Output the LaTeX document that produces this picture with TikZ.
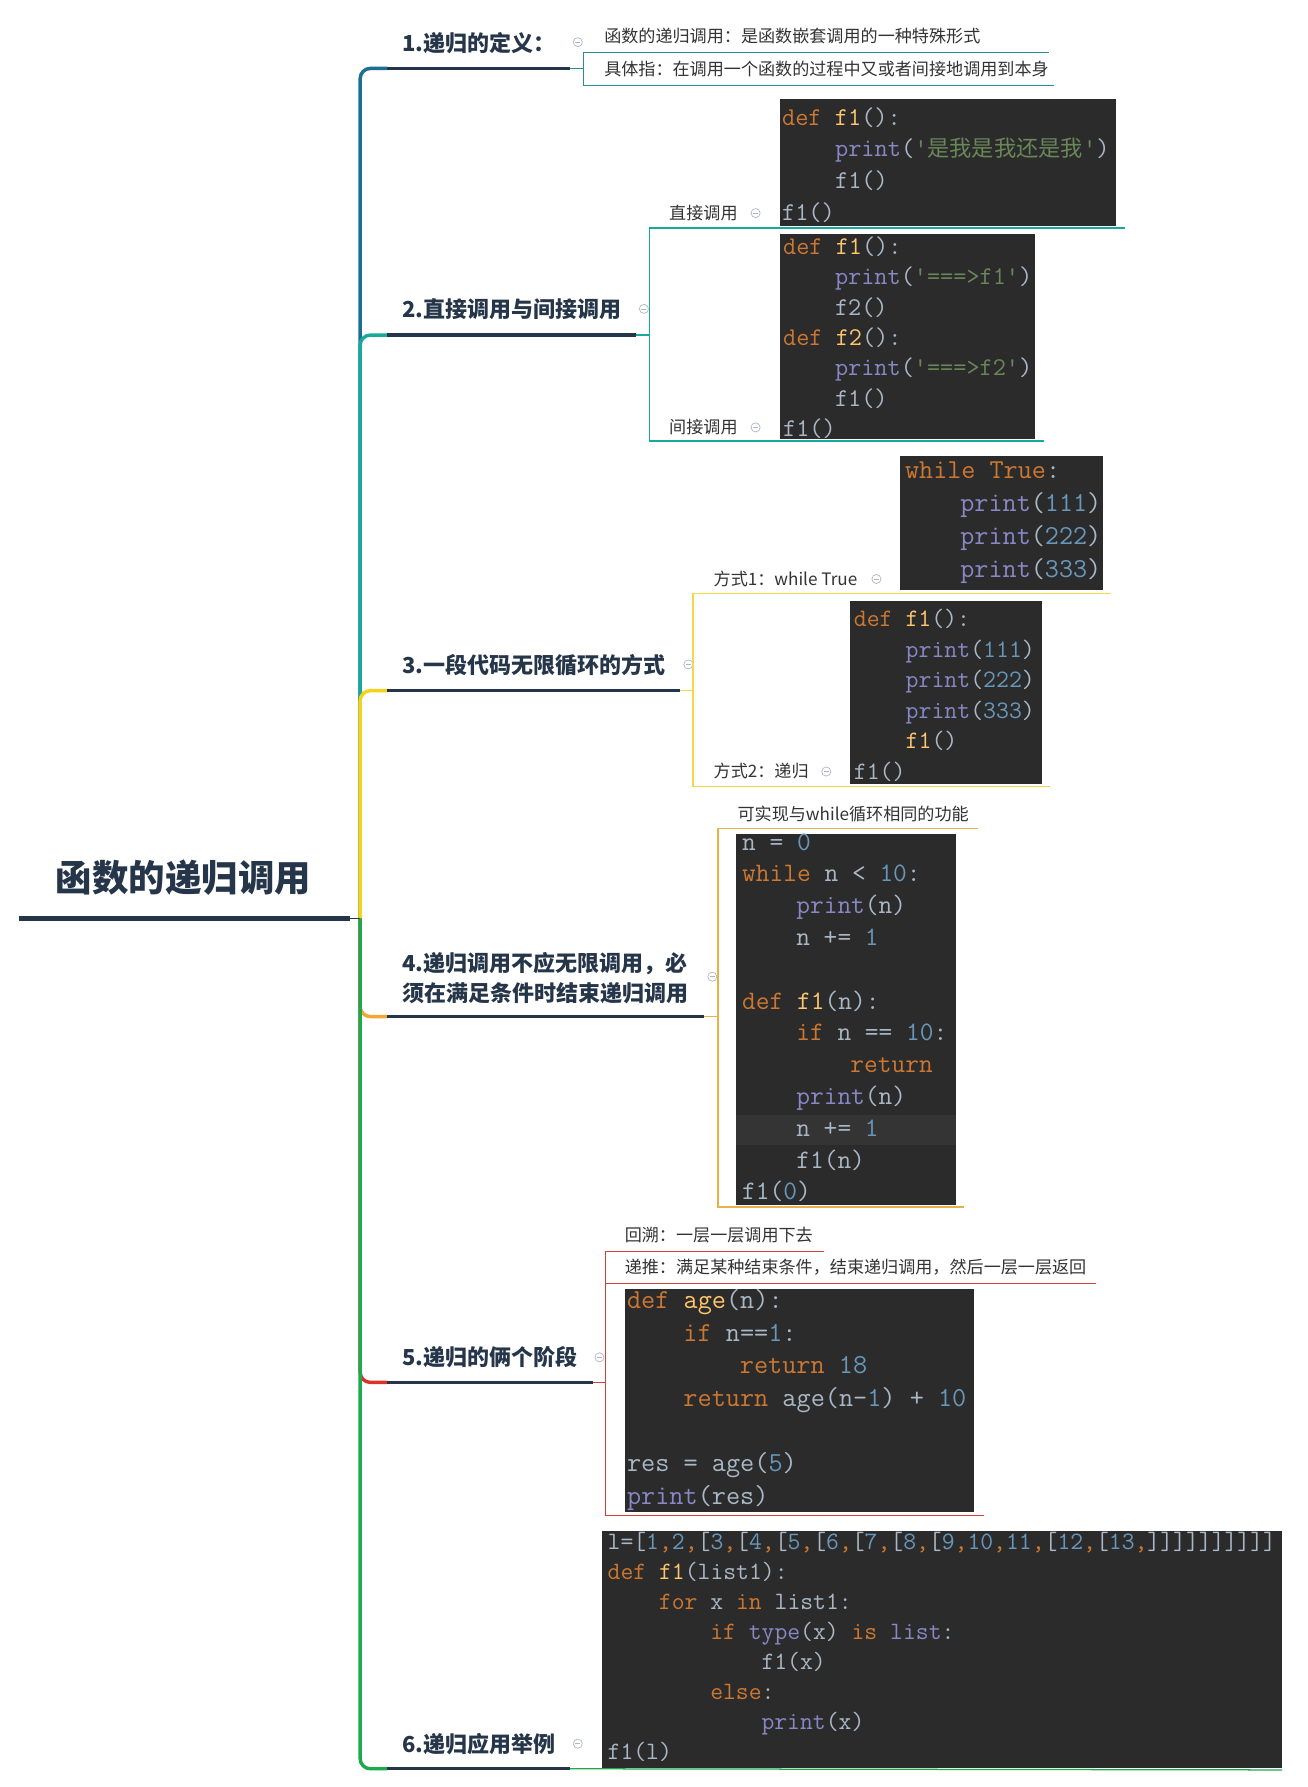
\documentclass[tikz,border=0pt]{standalone}
\usepackage{fontspec}
\newfontfamily\cjk{Noto Sans CJK SC}
\definecolor{navy}{HTML}{26364A}
\definecolor{cA}{HTML}{1B6F8F}
\definecolor{cAsub}{HTML}{2A8C96}
\definecolor{cB}{HTML}{17A99A}
\definecolor{cC}{HTML}{F5D31A}
\definecolor{cCsub}{HTML}{F0D84A}
\definecolor{cD}{HTML}{F0A830}
\definecolor{cDsub}{HTML}{E9B04A}
\definecolor{cE}{HTML}{D9342B}
\definecolor{cEsub}{HTML}{D0403A}
\definecolor{cF}{HTML}{1DAA4B}
\definecolor{foldc}{HTML}{AEB6C4}
\definecolor{leafc}{HTML}{333333}
\definecolor{codebg}{HTML}{2B2B2B}
\definecolor{codehl}{HTML}{343434}
\definecolor{codetxt}{HTML}{A9B7C6}
\definecolor{kwc}{HTML}{CC7832}
\definecolor{fnc}{HTML}{FFC66D}
\definecolor{bic}{HTML}{8888C6}
\definecolor{numc}{HTML}{6897BB}
\definecolor{strc}{HTML}{6A8759}
\newcommand\pyKw[1]{\textcolor{kwc}{#1}}
\newcommand\pyFn[1]{\textcolor{fnc}{#1}}
\newcommand\pyBi[1]{\textcolor{bic}{#1}}
\newcommand\pyNum[1]{\textcolor{numc}{#1}}
\newcommand\pyStr[1]{\textcolor{strc}{#1}}
\newcommand\pyC{\textcolor{kwc}{,}}
\newcommand\codefont[1]{\ttfamily\fontsize{#1}{#1}\selectfont}

\begin{document}
\begin{tikzpicture}[x=1pt,y=-1pt,
  trunk/.style={line width=3pt, rounded corners=9pt},
  topicline/.style={line width=3pt, draw=navy},
  sub/.style={line width=1.1pt},
  topic/.style={anchor=base west, inner sep=0pt, text=navy, font=\cjk\bfseries\fontsize{19.3}{24}\selectfont},
  leaf/.style={anchor=base west, inner sep=0pt, text=leafc, font=\cjk\fontsize{15}{18}\selectfont},
  codebox/.style={fill=codebg},
  code/.style={anchor=base west, inner sep=0pt, text=codetxt},
  fold/.style={circle, draw=foldc, line width=0.6pt, minimum size=8pt, inner sep=0pt,
    path picture={\draw[foldc, line width=0.6pt] ([xshift=-2.2pt]path picture bounding box.center) -- ([xshift=2.2pt]path picture bounding box.center);}},
]
\fill[white] (0,0) rectangle (1147,1568);
\useasboundingbox (0,0) rectangle (1147,1568);

% root
\node[anchor=base, inner sep=0pt, text=navy, font=\cjk\bfseries\fontsize{32}{36}\selectfont] (root) at (161,782) {函数的递归调用};
\coordinate (r0) at (17,806);
\coordinate (r1) at (307,806);
\coordinate (hub) at (316,806);

% topic anchors
\coordinate (t1s) at (340,60);   \coordinate (t1e) at (500,60);
\coordinate (t2s) at (340,294);  \coordinate (t2e) at (558,294);
\coordinate (t3s) at (340,606);  \coordinate (t3e) at (597,606);
\coordinate (t4s) at (340,892);  \coordinate (t4e) at (618,892);
\coordinate (t5s) at (340,1213); \coordinate (t5e) at (520,1213);
\coordinate (t6s) at (340,1552); \coordinate (t6e) at (500,1552);

% trunk
\draw[trunk, cA] (hub) |- (t1s);
\draw[trunk, cB] (hub) |- (t2s);
\draw[trunk, cC] (hub) |- (t3s);
\draw[trunk, cD] (hub) |- (t4s);
\draw[trunk, cE] (hub) |- (t5s);
\draw[trunk, cF] (hub) |- (t6s);
\draw[line width=4pt, navy] (r0) -- (r1);
\draw[line width=1.2pt, navy] (r1) -- (hub);

% topics
\node[topic] (t1) at (353,45) {1.递归的定义：};
\node[topic] (t2) at (353,279) {2.直接调用与间接调用};
\node[topic] (t3) at (353,591) {3.一段代码无限循环的方式};
\node[topic] (t4a) at (353,852) {4.递归调用不应无限调用，必};
\node[topic] (t4b) at (353,879) {须在满足条件时结束递归调用};
\node[topic] (t5) at (353,1198) {5.递归的俩个阶段};
\node[topic] (t6) at (353,1538) {6.递归应用举例};
\foreach \k in {1,...,6} \draw[topicline] (t\k s) -- (t\k e);

% fold markers
\node[fold] (f1) at (507,37) {};
\node[fold] (f2) at (565,271) {};
\node[fold] (f3) at (604,583) {};
\node[fold] (f4) at (625,857) {};
\node[fold] (f5) at (526,1191) {};
\node[fold] (f6) at (507,1530) {};
\node[fold] (f7) at (663,187) {};
\node[fold] (f8) at (663,375) {};
\node[fold] (f9) at (769,508) {};
\node[fold] (f10) at (725,677) {};

% 1
\node[leaf] (l1a) at (530,37.5) {函数的递归调用：是函数嵌套调用的一种特殊形式};
\node[leaf] (l1b) at (530,66.5) {具体指：在调用一个函数的过程中又或者间接地调用到本身};
\coordinate (b1) at (512,60);
\coordinate (u1a) at (920,46);
\coordinate (b1b) at (512,75);
\coordinate (u1b) at (925,75);
\draw[sub, cAsub] (t1e) -- (b1);
\draw[sub, cAsub] (u1a) -| (b1b) -- (u1b);

% 2
\fill[codebox] (684,87) rectangle (979,198);
\foreach \ln/\ind/\txt in {
  1/0/{\pyKw{def} \pyFn{f1}():},
  2/1/{\pyBi{print}(\pyStr{'{\cjk\fontsize{19.5}{20}\selectfont 是我是我还是我}'})},
  3/1/{f1()},
  4/0/{f1()}}
  \node[code, font={\codefont{22.5}}] (ca-\ln) at ({686+46.5*\ind},{110+27.7*(\ln-1)}) {\txt};
\node[leaf] (l2a) at (587,192.5) {直接调用};
\fill[codebox] (684,205) rectangle (908,385);
\foreach \ln/\ind/\txt in {
  1/0/{\pyKw{def} \pyFn{f1}():},
  2/1/{\pyBi{print}(\pyStr{'===>f1'})},
  3/1/{f2()},
  4/0/{\pyKw{def} \pyFn{f2}():},
  5/1/{\pyBi{print}(\pyStr{'===>f2'})},
  6/1/{f1()},
  7/0/{f1()}}
  \node[code, font={\codefont{22.4}}] (cb-\ln) at ({687+45.5*\ind},{223+26.7*(\ln-1)}) {\txt};
\node[leaf] (l2b) at (587,380.5) {间接调用};
\coordinate (b2) at (570,294);
\coordinate (u2a) at (987,200);
\coordinate (b2b) at (570,387);
\coordinate (u2b) at (916,387);
\draw[sub, cB] (t2e) -- (b2);
\draw[sub, cB] (u2a) -| (b2b) -- (u2b);

% 3
\fill[codebox] (790,400) rectangle (968,518);
\foreach \ln/\ind/\txt in {
  1/0/{\pyKw{while True}:},
  2/1/{\pyBi{print}(\pyNum{111})},
  3/1/{\pyBi{print}(\pyNum{222})},
  4/1/{\pyBi{print}(\pyNum{333})}}
  \node[code, font={\codefont{24}}] (cc-\ln) at ({794+48.5*\ind},{420+29*(\ln-1)}) {\txt};
\node[leaf] (l3a) at (626,513.5) {方式1：while True};
\fill[codebox] (746,527) rectangle (914,688);
\foreach \ln/\ind/\txt in {
  1/0/{\pyKw{def} \pyFn{f1}():},
  2/1/{\pyBi{print}(\pyNum{111})},
  3/1/{\pyBi{print}(\pyNum{222})},
  4/1/{\pyBi{print}(\pyNum{333})},
  5/1/{\pyFn{f1}()},
  6/0/{f1()}}
  \node[code, font={\codefont{22}}] (cd-\ln) at ({749+45.5*\ind},{550+26.8*(\ln-1)}) {\txt};
\node[leaf] (l3b) at (626,682.5) {方式2：递归};
\coordinate (b3) at (608,606);
\coordinate (u3a) at (975,521);
\coordinate (b3b) at (608,690);
\coordinate (u3b) at (921,690);
\draw[sub, cCsub] (t3e) -- (b3);
\draw[sub, cCsub] (u3a) -| (b3b) -- (u3b);

% 4
\node[leaf] (l4) at (647,719.5) {可实现与while循环相同的功能};
\fill[codebox] (646,732) rectangle (839,1057);
\fill[codehl] (646,978) rectangle (839,1005);
\foreach \ln/\ind/\txt in {
  1/0/{n = \pyNum{0}},
  2/0/{\pyKw{while} n < \pyNum{10}:},
  3/1/{\pyBi{print}(n)},
  4/1/{n += \pyNum{1}},
  6/0/{\pyKw{def} \pyFn{f1}(n):},
  7/1/{\pyKw{if} n == \pyNum{10}:},
  8/2/{\pyKw{return}},
  9/1/{\pyBi{print}(n)},
  10/1/{n += \pyNum{1}},
  11/1/{f1(n)},
  12/0/{f1(\pyNum{0})}}
  \node[code, font={\codefont{23.4}}] (ce-\ln) at ({651+47.5*\ind},{746+27.9*(\ln-1)}) {\txt};
\coordinate (b4) at (630,892);
\coordinate (u4a) at (858,727);
\coordinate (b4b) at (630,1059);
\coordinate (u4b) at (846,1059);
\draw[sub, cDsub] (t4e) -- (b4);
\draw[sub, cDsub] (u4a) -| (b4b) -- (u4b);

% 5
\node[leaf] (l5a) at (548,1089.5) {回溯：一层一层调用下去};
\node[leaf] (l5b) at (548,1117.5) {递推：满足某种结束条件，结束递归调用，然后一层一层返回};
\fill[codebox] (548,1131) rectangle (855,1327);
\foreach \ln/\ind/\txt in {
  1/0/{\pyKw{def} \pyFn{age}(n):},
  2/1/{\pyKw{if} n==\pyNum{1}:},
  3/2/{\pyKw{return} \pyNum{18}},
  4/1/{\pyKw{return} age(n-\pyNum{1}) + \pyNum{10}},
  6/0/{res = age(\pyNum{5})},
  7/0/{\pyBi{print}(res)}}
  \node[code, font={\codefont{24.1}}] (cf-\ln) at ({550+49.5*\ind},{1148+28.7*(\ln-1)}) {\txt};
\coordinate (b5) at (531,1213);
\coordinate (u5a) at (723,1098);
\coordinate (b5b) at (531,1330);
\coordinate (u5b) at (863,1330);
\coordinate (b5m) at (531,1126);
\coordinate (u5m) at (962,1126);
\draw[sub, cEsub] (t5e) -- (b5);
\draw[sub, cEsub] (u5a) -| (b5b) -- (u5b);
\draw[sub, cEsub] (b5m) -- (u5m);

% 6
\fill[codebox] (528,1343) rectangle (1125,1551);
\foreach \ln/\ind/\txt in {
  1/0/{l=[\pyNum{1}\pyC\pyNum{2}\pyC[\pyNum{3}\pyC[\pyNum{4}\pyC[\pyNum{5}\pyC[\pyNum{6}\pyC[\pyNum{7}\pyC[\pyNum{8}\pyC[\pyNum{9}\pyC\pyNum{10}\pyC\pyNum{11}\pyC[\pyNum{12}\pyC[\pyNum{13}\pyC]]]]]]]]]]},
  2/0/{\pyKw{def} \pyFn{f1}(list1):},
  3/1/{\pyKw{for} x \pyKw{in} list1:},
  4/2/{\pyKw{if} \pyBi{type}(x) \pyKw{is} \pyBi{list}:},
  5/3/{f1(x)},
  6/2/{\pyKw{else}:},
  7/3/{\pyBi{print}(x)},
  8/0/{f1(l)}}
  \node[code, font={\codefont{21.9}}] (cg-\ln) at ({533+45*\ind},{1360+26.3*(\ln-1)}) {\txt};
\coordinate (u6) at (1125,1553);
\draw[sub, cF] (t6e) -- (u6);
\end{tikzpicture}
\end{document}
